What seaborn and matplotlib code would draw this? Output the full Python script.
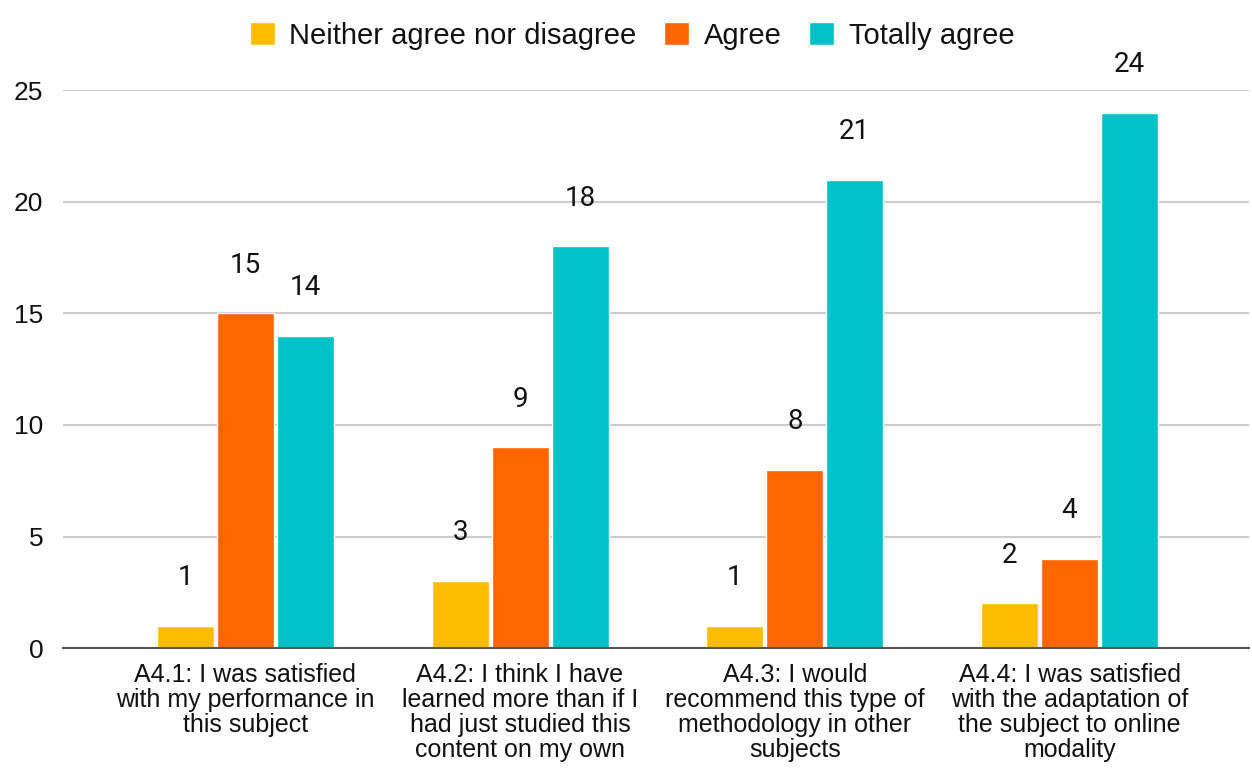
import pandas as pd
import matplotlib
matplotlib.use("Agg")
import matplotlib.pyplot as plt
import seaborn as sns

questions = [
    "A4.1: I was satisfied\nwith my performance in\nthis subject",
    "A4.2: I think I have\nlearned more than if I\nhad just studied this\ncontent on my own",
    "A4.3: I would\nrecommend this type of\nmethodology in other\nsubjects",
    "A4.4: I was satisfied\nwith the adaptation of\nthe subject to online\nmodality",
]
answers = ["Neither agree nor disagree", "Agree", "Totally agree"]
neither = [1, 3, 1, 2]
agree = [15, 9, 8, 4]
totally = [14, 18, 21, 24]
colors = ["#FFBC00", "#FF6500", "#00C1C8"]

rows = []
for ans, vals in zip(answers, [neither, agree, totally]):
    for q, v in zip(questions, vals):
        rows.append({"question": q, "answer": ans, "count": v})
df = pd.DataFrame(rows)

sns.set_style("white")
plt.rcParams["font.family"] = ["Liberation Sans", "DejaVu Sans"]

fig = plt.figure(figsize=(12.52, 7.78), dpi=100)
ax = fig.add_axes([0.05, 0.167, 0.948, 0.717])

sns.barplot(data=df, x="question", y="count", hue="answer", hue_order=answers,
            palette=colors, width=0.655, gap=0.05, saturation=1, ax=ax)

for cont in ax.containers:
    ax.bar_label(cont, padding=25, fontsize=20, family="Roboto", color="#111111")

ax.set_ylim(0, 25)
ax.set_xlim(-0.665, 3.655)
ax.set_yticks([0, 5, 10, 15, 20, 25])
ax.yaxis.grid(True, color="#cccccc", linewidth=1.5)
ax.set_axisbelow(True)
ax.set_xlabel("")
ax.set_ylabel("")
ax.tick_params(axis="y", length=0, labelsize=19, pad=14, labelcolor="#111111")
ax.tick_params(axis="x", length=0, labelsize=18, pad=11, labelcolor="#111111")
for lab in ax.get_xticklabels():
    lab.set_linespacing(1.05)
for s in ["left", "right", "top"]:
    ax.spines[s].set_visible(False)
ax.spines["bottom"].set_color("#555555")
ax.spines["bottom"].set_linewidth(1.5)

handles, labels = ax.get_legend_handles_labels()
ax.legend_.remove()
fig.legend(handles, labels, loc="upper center", bbox_to_anchor=(0.505, 1.006), ncol=3,
           frameon=False, fontsize=21, handlelength=0.85, handleheight=0.85,
           handletextpad=0.5, columnspacing=0.95, labelcolor="#111111")

fig.savefig("out.png", dpi=100)
